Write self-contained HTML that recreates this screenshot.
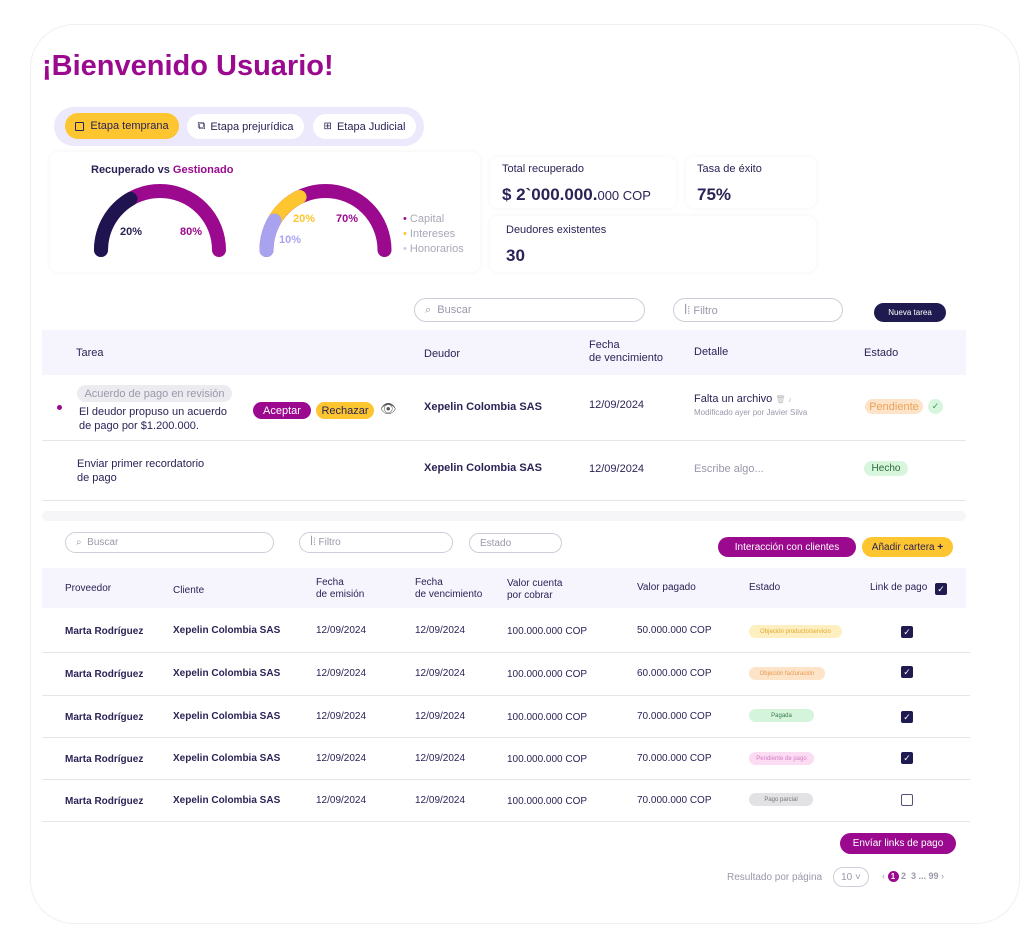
<!DOCTYPE html>
<html><head><meta charset="utf-8"><style>
*{margin:0;padding:0;box-sizing:border-box}
body{width:1024px;height:947px;background:#fff;font-family:"Liberation Sans",sans-serif;color:#2a2356;position:relative;overflow:hidden}
.a{position:absolute;white-space:nowrap}
.frame{position:absolute;left:30px;top:24px;width:990px;height:900px;border:1px solid #f0f0f4;border-radius:44px}
.pill{position:absolute;border-radius:14px;font-size:11px;display:flex;align-items:center;justify-content:center}
.inp{position:absolute;border:1px solid #cfcdd9;border-radius:14px;font-size:11px;color:#9a98aa;display:flex;align-items:center;padding-left:10px}
.hdr{position:absolute;background:#f6f5fd}
.s11{font-size:11px}
.b{font-weight:bold}
.line{position:absolute;height:1px;background:#e6e5ec}
.chk{position:absolute;width:12px;height:12px;border-radius:2px;background:#1f1a4f;color:#fff;font-size:9px;text-align:center;line-height:12px}
.tag{position:absolute;height:13px;border-radius:7px;font-size:6px;display:flex;align-items:center;justify-content:center}
.card{position:absolute;background:#fff;border-radius:8px;box-shadow:0 0 6px rgba(0,0,0,.05)}
</style></head><body>
<div class="frame"></div>
<div class="a b" style="left:42px;top:50px;font-size:29px;color:#9b0a8e">¡Bienvenido Usuario!</div>

<div class="a" style="left:54px;top:107px;width:370px;height:39px;background:#ebe9fb;border-radius:20px"></div>
<div class="pill" style="left:65px;top:113px;width:114px;height:26px;background:#fdc52f;color:#2a2356"><span style="display:inline-block;width:9px;height:9px;border:1px solid #2a2356;border-radius:1px;margin-right:6px"></span>Etapa temprana</div>
<div class="pill" style="left:187px;top:114px;width:117px;height:25px;background:#fff"><span style="font-size:11px;margin-right:5px">⧉</span>Etapa prejurídica</div>
<div class="pill" style="left:313px;top:114px;width:103px;height:25px;background:#fff"><span style="font-size:10px;margin-right:5px">⊞</span>Etapa Judicial</div>

<div class="card" style="left:50px;top:152px;width:430px;height:120px"></div>
<div class="a b" style="left:91px;top:164px;font-size:11px">Recuperado vs <span style="color:#9b0a8e">Gestionado</span></div>
<svg class="a" style="left:0;top:0" width="480" height="280">
<path d="M101 250 A59 59 0 0 1 219 250" fill="none" stroke="#9b0a8e" stroke-width="14" stroke-linecap="round"/>
<path d="M101 250 A59 59 0 0 1 130.5 198.9" fill="none" stroke="#1f1450" stroke-width="14" stroke-linecap="round"/>
<path d="M266.5 250 A59 59 0 0 1 384.5 250" fill="none" stroke="#9b0a8e" stroke-width="14" stroke-linecap="round"/>
<path d="M274.4 220.5 A59 59 0 0 1 299.6 197" fill="none" stroke="#fdc52f" stroke-width="14" stroke-linecap="round"/>
<path d="M266.5 250 A59 59 0 0 1 274.4 220.5" fill="none" stroke="#a9a3ef" stroke-width="14" stroke-linecap="round"/>
</svg>
<div class="a b s11" style="left:120px;top:226px;color:#2a2356">20%</div>
<div class="a b s11" style="left:180px;top:226px;color:#9b0a8e">80%</div>
<div class="a b s11" style="left:293px;top:213px;color:#fdc52f">20%</div>
<div class="a b s11" style="left:336px;top:213px;color:#9b0a8e">70%</div>
<div class="a b s11" style="left:279px;top:234px;color:#a9a3ef">10%</div>
<div class="a s11" style="left:403px;top:212px;color:#aaa8b8;line-height:15px"><span style="color:#9b0a8e">•</span> Capital<br><span style="color:#fdc52f">•</span> Intereses<br><span style="color:#c9c6f2">•</span> Honorarios</div>

<div class="card" style="left:490px;top:157px;width:186px;height:51px"></div>
<div class="card" style="left:686px;top:157px;width:130px;height:51px"></div>
<div class="card" style="left:490px;top:216px;width:326px;height:56px"></div>
<div class="a s11" style="left:502px;top:163px">Total recuperado</div>
<div class="a b" style="left:502px;top:185px;font-size:17px">$ 2`000.000.<span style="font-size:13px;font-weight:normal">000 COP</span></div>
<div class="a s11" style="left:697px;top:163px">Tasa de éxito</div>
<div class="a b" style="left:697px;top:185px;font-size:17px">75%</div>
<div class="a s11" style="left:506px;top:224px">Deudores existentes</div>
<div class="a b" style="left:506px;top:246px;font-size:17px">30</div>

<div class="inp" style="left:414px;top:298px;width:231px;height:24px">⌕&nbsp; Buscar</div>
<div class="inp" style="left:673px;top:298px;width:170px;height:24px">ꟾ⁞ Filtro</div>
<div class="pill" style="left:874px;top:303px;width:72px;height:19px;background:#1f1a4f;color:#fff;font-size:8px;border-radius:10px">Nueva tarea</div>

<div class="hdr" style="left:42px;top:330px;width:924px;height:45px"></div>
<div class="a s11" style="left:76px;top:347px">Tarea</div>
<div class="a s11" style="left:424px;top:348px">Deudor</div>
<div class="a s11" style="left:589px;top:339px;line-height:13px">Fecha<br>de vencimiento</div>
<div class="a s11" style="left:694px;top:346px">Detalle</div>
<div class="a s11" style="left:864px;top:347px">Estado</div>

<div class="a" style="left:57px;top:405px;width:5px;height:5px;border-radius:3px;background:#9b0a8e"></div>
<div class="pill" style="left:77px;top:385px;width:155px;height:17px;background:#ececf0;color:#9a98aa">Acuerdo de pago en revisión</div>
<div class="a s11" style="left:79px;top:405px;line-height:14px">El deudor propuso un acuerdo<br>de pago por $1.200.000.</div>
<div class="pill" style="left:253px;top:402px;width:58px;height:17px;background:#9b0a8e;color:#fff">Aceptar</div>
<div class="pill" style="left:316px;top:402px;width:58px;height:17px;background:#fdc52f;color:#2a2356">Rechazar</div>
<div class="a" style="left:380px;top:401px;font-size:13px;color:#555">👁</div>
<div class="a b s11" style="left:424px;top:401px">Xepelin Colombia SAS</div>
<div class="a s11" style="left:589px;top:399px">12/09/2024</div>
<div class="a s11" style="left:694px;top:393px">Falta un archivo <span style="color:#bbb;font-size:8px">🗑 ♪</span></div>
<div class="a" style="left:694px;top:408px;font-size:8px;color:#9a98aa">Modificado ayer por Javier Silva</div>
<div class="pill" style="left:865px;top:399px;width:58px;height:15px;background:#fde3c8;color:#e9a35a;border-radius:8px">Pendiente</div>
<div class="pill" style="left:928px;top:399px;width:15px;height:15px;background:#d8f5dd;color:#3a9a50;font-size:9px;border-radius:8px">✓</div>
<div class="line" style="left:42px;top:440px;width:924px"></div>

<div class="a s11" style="left:77px;top:457px;line-height:14px">Enviar primer recordatorio<br>de pago</div>
<div class="a b s11" style="left:424px;top:462px">Xepelin Colombia SAS</div>
<div class="a s11" style="left:589px;top:463px">12/09/2024</div>
<div class="a s11" style="left:694px;top:463px;color:#9a98aa">Escribe algo...</div>
<div class="pill" style="left:864px;top:461px;width:44px;height:15px;background:#d8f5dd;color:#2a6b3a;font-size:10px;border-radius:8px">Hecho</div>
<div class="line" style="left:42px;top:500px;width:924px"></div>
<div class="a" style="left:42px;top:511px;width:924px;height:10px;background:#f6f6f9;border-radius:5px"></div>

<div class="inp" style="left:65px;top:532px;width:209px;height:21px;font-size:10px">⌕&nbsp; Buscar</div>
<div class="inp" style="left:299px;top:532px;width:154px;height:21px;font-size:10px">ꟾ⁞ Filtro</div>
<div class="inp" style="left:469px;top:533px;width:93px;height:20px;font-size:10px">Estado</div>
<div class="pill" style="left:718px;top:537px;width:138px;height:20px;background:#9b0a8e;color:#fff;font-size:10px;border-radius:10px">Interacción con clientes</div>
<div class="pill" style="left:862px;top:537px;width:91px;height:20px;background:#fdc52f;color:#2a2356;font-size:10px;border-radius:10px">Añadir cartera&nbsp;<b>+</b></div>

<div class="hdr" style="left:42px;top:568px;width:924px;height:40px"></div>
<div class="a" style="left:65px;top:583px;font-size:10px">Proveedor</div>
<div class="a" style="left:173px;top:585px;font-size:10px">Cliente</div>
<div class="a" style="left:316px;top:577px;font-size:10px;line-height:12px">Fecha<br>de emisión</div>
<div class="a" style="left:415px;top:577px;font-size:10px;line-height:12px">Fecha<br>de vencimiento</div>
<div class="a" style="left:507px;top:578px;font-size:10px;line-height:12px">Valor cuenta<br>por cobrar</div>
<div class="a" style="left:637px;top:582px;font-size:10px">Valor pagado</div>
<div class="a" style="left:749px;top:582px;font-size:10px">Estado</div>
<div class="a" style="left:870px;top:582px;font-size:10px">Link de pago</div>
<div class="chk" style="left:935px;top:583px">✓</div>

<!-- rows -->
<div class="a b" style="left:65px;top:626px;font-size:10px">Marta Rodríguez</div><div class="a b" style="left:173px;top:625px;font-size:10px">Xepelin Colombia SAS</div><div class="a" style="left:316px;top:625px;font-size:10px">12/09/2024</div><div class="a" style="left:415px;top:625px;font-size:10px">12/09/2024</div><div class="a" style="left:507px;top:626px;font-size:10px">100.000.000 COP</div><div class="a" style="left:637px;top:625px;font-size:10px">50.000.000 COP</div>
<div class="tag" style="left:749px;top:625px;width:93px;background:#fdefbf;color:#e0a82e">Objeción producto/servicio</div><div class="chk" style="left:901px;top:626px">✓</div>
<div class="line" style="left:42px;top:652px;width:928px"></div>
<div class="a b" style="left:65px;top:669px;font-size:10px">Marta Rodríguez</div><div class="a b" style="left:173px;top:668px;font-size:10px">Xepelin Colombia SAS</div><div class="a" style="left:316px;top:668px;font-size:10px">12/09/2024</div><div class="a" style="left:415px;top:668px;font-size:10px">12/09/2024</div><div class="a" style="left:507px;top:669px;font-size:10px">100.000.000 COP</div><div class="a" style="left:637px;top:668px;font-size:10px">60.000.000 COP</div>
<div class="tag" style="left:749px;top:667px;width:76px;background:#fde3c8;color:#e99a4e">Objeción facturación</div><div class="chk" style="left:901px;top:666px">✓</div>
<div class="line" style="left:42px;top:695px;width:928px"></div>
<div class="a b" style="left:65px;top:712px;font-size:10px">Marta Rodríguez</div><div class="a b" style="left:173px;top:711px;font-size:10px">Xepelin Colombia SAS</div><div class="a" style="left:316px;top:711px;font-size:10px">12/09/2024</div><div class="a" style="left:415px;top:711px;font-size:10px">12/09/2024</div><div class="a" style="left:507px;top:712px;font-size:10px">100.000.000 COP</div><div class="a" style="left:637px;top:711px;font-size:10px">70.000.000 COP</div>
<div class="tag" style="left:749px;top:709px;width:65px;background:#d4f5dc;color:#3a7a4a">Pagada</div><div class="chk" style="left:901px;top:711px">✓</div>
<div class="line" style="left:42px;top:737px;width:928px"></div>
<div class="a b" style="left:65px;top:754px;font-size:10px">Marta Rodríguez</div><div class="a b" style="left:173px;top:753px;font-size:10px">Xepelin Colombia SAS</div><div class="a" style="left:316px;top:753px;font-size:10px">12/09/2024</div><div class="a" style="left:415px;top:753px;font-size:10px">12/09/2024</div><div class="a" style="left:507px;top:754px;font-size:10px">100.000.000 COP</div><div class="a" style="left:637px;top:753px;font-size:10px">70.000.000 COP</div>
<div class="tag" style="left:749px;top:752px;width:65px;background:#fbdcf3;color:#d67ac4">Pendiente de pago</div><div class="chk" style="left:901px;top:752px">✓</div>
<div class="line" style="left:42px;top:779px;width:928px"></div>
<div class="a b" style="left:65px;top:796px;font-size:10px">Marta Rodríguez</div><div class="a b" style="left:173px;top:795px;font-size:10px">Xepelin Colombia SAS</div><div class="a" style="left:316px;top:795px;font-size:10px">12/09/2024</div><div class="a" style="left:415px;top:795px;font-size:10px">12/09/2024</div><div class="a" style="left:507px;top:796px;font-size:10px">100.000.000 COP</div><div class="a" style="left:637px;top:795px;font-size:10px">70.000.000 COP</div>
<div class="tag" style="left:749px;top:793px;width:64px;background:#e2e2e4;color:#777">Pago parcial</div><div class="chk" style="left:901px;top:794px;background:#fff;border:1.5px solid #55507a"></div>
<div class="line" style="left:42px;top:821px;width:928px"></div>

<div class="pill" style="left:840px;top:833px;width:116px;height:21px;background:#9b0a8e;color:#fff;font-size:10px;border-radius:11px">Envíar links de pago</div>
<div class="a" style="left:727px;top:872px;font-size:10px;color:#9a98aa">Resultado por página</div>
<div class="pill" style="left:833px;top:867px;width:36px;height:20px;border:1px solid #cfcdd9;color:#9a98aa;font-size:10px;border-radius:10px">10 ˅</div>
<div class="a" style="left:882px;top:871px;font-size:9px;color:#9a98aa">‹ <span style="display:inline-block;width:11px;height:11px;border-radius:6px;background:#9b0a8e;color:#fff;text-align:center;line-height:11px;font-size:8px;font-weight:bold">1</span> <b>2 &nbsp;3 ... 99</b> ›</div>
</body></html>
